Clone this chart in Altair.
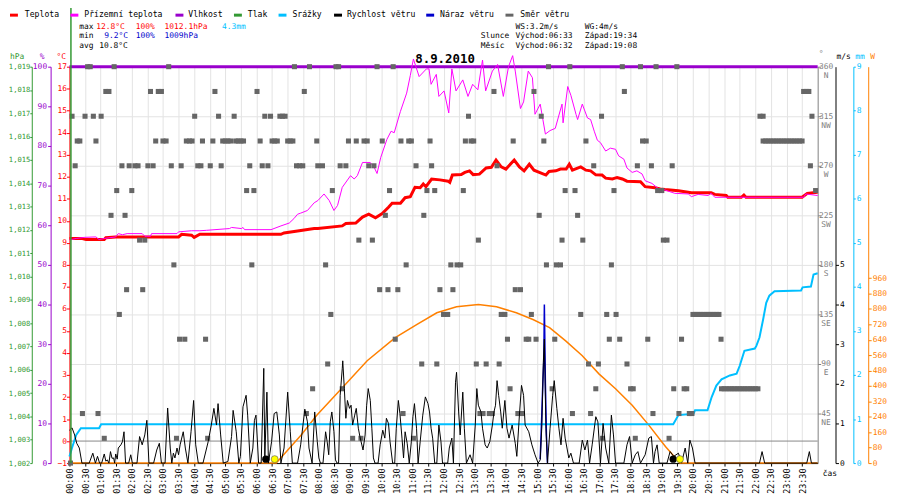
import altair as alt
import pandas as pd

FONT = "DejaVu Sans Mono"
FS = 8
W, H = 755, 400
X0, Y0 = 70, 65

C_TEMP = "#ff0000"
C_FEEL = "#ff00ff"
C_HUM = "#9900cc"
C_PRES = "#339933"
C_RAIN = "#00bfff"
C_WIND = "#000000"
C_GUST = "#0000cc"
C_DIR = "#666666"
C_SUN = "#ff8000"

# ---- data (time in minutes since midnight, value) ----
temp = [(0, 9.2), (25, 9.2), (32, 9.15), (67, 9.15), (70, 9.23), (89, 9.27), (210, 9.27), (216, 9.39),
        (235, 9.35), (240, 9.25), (251, 9.39), (407, 9.39), (413, 9.45), (439, 9.54), (471, 9.65),
        (478, 9.65), (525, 9.77), (532, 9.88), (551, 9.9), (564, 10.17), (576, 10.3), (589, 10.14),
        (602, 10.33), (614, 10.62), (621, 10.8), (637, 10.8), (646, 11.05), (656, 11.1), (665, 11.52),
        (675, 11.5), (681, 11.67), (686, 11.55), (697, 11.9), (713, 11.86), (729, 11.8), (732, 11.75),
        (737, 12.08), (754, 12.1), (761, 12.2), (770, 12.27), (777, 12.1), (789, 12.12), (802, 12.4),
        (812, 12.43), (821, 12.76), (831, 12.45), (840, 12.35), (856, 12.76), (866, 12.45), (875, 12.27),
        (885, 12.57), (894, 12.3), (917, 12.08), (923, 12.24), (936, 12.27), (945, 12.35), (956, 12.35),
        (962, 12.57), (968, 12.3), (984, 12.45), (994, 12.3), (1003, 12.27), (1013, 12.09), (1025, 12.08),
        (1032, 11.94), (1045, 11.9), (1054, 11.97), (1064, 11.9), (1073, 11.8), (1099, 11.78), (1108, 11.55),
        (1127, 11.5), (1137, 11.45), (1146, 11.42), (1172, 11.37), (1197, 11.28), (1235, 11.28), (1242, 11.2),
        (1264, 11.15), (1267, 11.07), (1293, 11.07), (1298, 11.17), (1302, 11.07), (1410, 11.07), (1420, 11.25),
        (1440, 11.3)]

feels = [(0, 9.13), (13, 9.2), (29, 9.25), (51, 9.27), (57, 9.15), (67, 9.2), (89, 9.27), (94, 9.42),
         (102, 9.37), (111, 9.42), (140, 9.42), (145, 9.3), (156, 9.3), (158, 9.42), (207, 9.42), (210, 9.5),
         (235, 9.55), (251, 9.55), (264, 9.57), (308, 9.65), (312, 9.7), (331, 9.65), (334, 9.7), (337, 9.6),
         (388, 9.6), (407, 9.77), (423, 9.9), (432, 10.1), (439, 10.3), (445, 10.35), (458, 10.47), (471, 10.82),
         (478, 10.92), (490, 11.22), (500, 10.92), (509, 10.47), (516, 10.7), (525, 11.52), (541, 12.05),
         (548, 11.9), (554, 12.05), (564, 12.65), (579, 12.65), (586, 12.45), (592, 12.15), (599, 12.87),
         (611, 13.7), (619, 14.07), (625, 14.0), (637, 14.97), (649, 15.8), (656, 16.6), (662, 17.35),
         (673, 16.55), (687, 16.9), (692, 16.9), (696, 16.2), (706, 16.65), (711, 15.65), (721, 15.9),
         (730, 14.9), (736, 16.9), (744, 15.9), (757, 16.4), (767, 15.65), (776, 16.2), (786, 15.95),
         (795, 17.3), (801, 15.9), (814, 16.8), (824, 17.1), (835, 15.65), (845, 17.0), (853, 17.5),
         (858, 16.8), (868, 15.1), (874, 15.4), (883, 16.8), (891, 16.5), (896, 14.84), (906, 15.3),
         (916, 13.94), (925, 14.1), (935, 14.2), (948, 15.3), (950, 14.45), (959, 16.1), (965, 15.7),
         (975, 14.83), (978, 14.6), (987, 15.3), (997, 14.67), (1003, 14.6), (1010, 14.07), (1016, 13.66),
         (1022, 13.55), (1032, 13.17), (1041, 13.3), (1051, 13.25), (1057, 12.95), (1067, 12.8), (1073, 12.4),
         (1083, 12.2), (1092, 12.27), (1102, 12.13), (1108, 11.82), (1121, 11.7), (1134, 11.45), (1146, 11.4),
         (1165, 11.25), (1191, 11.22), (1197, 11.1), (1210, 11.2), (1229, 11.15), (1235, 11.25), (1242, 11.07),
         (1413, 11.07), (1417, 11.22), (1440, 11.15)]

humidity = [(0, 100), (1440, 100)]
pressure = [(0, 1012.1), (0, 1009.0)]

wind = [(0, 0.83), (5, 0.89), (10, 0.71), (14, 0.5), (19, 0.38), (24, 0), (38, 0), (45, 0.25), (50, 0),
        (54, 0.17), (58, 0), (62, 0), (67, 0.23), (70, 0.05), (73, 0.08), (76, 0), (79, 0.29), (82, 0.12),
        (85, 0.13), (87, 0), (89, 0.23), (92, 0.1), (94, 0.38), (99, 0.46), (102, 0.54), (105, 0.79), (108, 0),
        (114, 0), (118, 0.21), (121, 0), (130, 0), (135, 0.67), (140, 0.46), (145, 0.71), (149, 1.08), (153, 0),
        (162, 0), (168, 0.33), (173, 0.5), (177, 0), (184, 0), (189, 1.39), (194, 0.38), (197, 0), (200, 0.25),
        (203, 0.13), (207, 0.38), (210, 0.21), (213, 0.46), (219, 0.79), (223, 0.38), (228, 0), (234, 0.79),
        (239, 1.58), (243, 0.46), (248, 0), (257, 0), (267, 0.54), (273, 0.96), (278, 1.38), (283, 0.96),
        (286, 1.5), (291, 0.71), (296, 0), (305, 0.04), (312, 0.67), (315, 1.33), (321, 0.79), (326, 0),
        (329, 0.17), (334, 1.42), (340, 1.71), (343, 1.21), (348, 0), (353, 0.38), (356, 1.08), (359, 1.21),
        (364, 0), (369, 0), (374, 2.39), (376, 0.13), (380, 1.79), (383, 0), (389, 0.54), (394, 1.25),
        (399, 1.29), (404, 0.71), (407, 0), (413, 0.38), (420, 1.79), (425, 0.79), (429, 0), (439, 0),
        (445, 0.46), (453, 1.36), (458, 1.04), (461, 0.38), (467, 0), (472, 1.29), (477, 0.54), (480, 0.13),
        (483, 0), (488, 0), (493, 0.79), (496, 0.54), (499, 0.21), (502, 1.04), (505, 1.29), (509, 0.79),
        (512, 0.08), (515, 0), (518, 0), (521, 1.71), (525, 2.38), (526, 2.58), (529, 1.88), (532, 1.13),
        (535, 1.58), (539, 1.38), (542, 1.46), (545, 0.96), (549, 1.21), (552, 1.38), (556, 0.88), (559, 0.67),
        (565, 0.33), (569, 0.71), (572, 1.46), (575, 1.88), (579, 1.58), (582, 0.88), (585, 0.13), (588, 0),
        (594, 0), (598, 0.46), (603, 0.83), (607, 0.63), (610, 1.13), (614, 1.0), (617, 0.54), (622, 0),
        (626, 0), (629, 0.88), (633, 1.58), (636, 1.25), (640, 0.63), (643, 0.13), (646, 0.79), (650, 0.5),
        (654, 0), (658, 0.54), (661, 1.17), (664, 1.5), (668, 0.88), (671, 0), (675, 0.54), (680, 1.21),
        (685, 1.67), (690, 1.5), (693, 1.29), (696, 0.88), (699, 0.63), (703, 0), (707, 0), (711, 0.96),
        (715, 0.54), (718, 0), (728, 0), (731, 0.38), (736, 0.63), (739, 0), (743, 2.04), (745, 2.29),
        (749, 1.29), (752, 0.71), (757, 1.79), (760, 0.88), (764, 0), (771, 0.21), (776, 0), (781, 0.96),
        (784, 1.88), (787, 1.46), (792, 1.29), (795, 0.88), (800, 0.46), (804, 0.38), (809, 0.54), (814, 0.96),
        (817, 1.29), (820, 1.46), (823, 2.08), (826, 1.71), (830, 1.29), (833, 0.88), (838, 1.58), (842, 0.88),
        (846, 0.63), (852, 0.96), (858, 0.5), (861, 0.17), (866, 1.21), (870, 1.96), (874, 1.71), (877, 0.96),
        (884, 0.79), (890, 0.46), (896, 0.21), (902, 0), (906, 0.08), (909, 0.88), (912, 2.54), (914, 3.13),
        (917, 0.88), (920, 0), (925, 0.88), (930, 1.71), (933, 2.08), (938, 1.38), (942, 0.88), (946, 0.46),
        (950, 1.13), (954, 0.63), (961, 0.13), (965, 0.25), (970, 0), (981, 0), (987, 0.58), (992, 0.33),
        (997, 0.58), (1001, 0), (1006, 0.46), (1013, 1.17), (1017, 1.04), (1022, 0), (1027, 1.0), (1032, 0.38),
        (1038, 0), (1043, 1.21), (1047, 0.71), (1051, 0), (1067, 0), (1073, 0.46), (1078, 0.67), (1083, 0),
        (1089, 0.21), (1094, 0.29), (1099, 0), (1108, 0.21), (1115, 0.63), (1120, 0.67), (1124, 0),
        (1127, 0.29), (1131, 0.46), (1135, 0), (1150, 0), (1156, 0.29), (1163, 0.17), (1172, 0.25), (1178, 0),
        (1185, 0.38), (1190, 0), (1194, 0.58), (1199, 0.38), (1204, 0), (1328, 0), (1333, 0.29), (1338, 0),
        (1419, 0), (1424, 0.29), (1428, 0), (1440, 0)]

gust = [(906, 0.1), (909, 1.2), (911, 2.0), (913, 2.6), (914, 4.0), (916, 2.0), (918, 0.7), (920, 0)]

rain = [(0, 0.15), (5, 0.35), (13, 0.64), (22, 0.79), (57, 0.79), (61, 0.88), (1162, 0.88), (1172, 1.09),
        (1201, 1.12), (1204, 1.2), (1228, 1.2), (1236, 1.5), (1245, 1.76), (1255, 1.9), (1271, 1.99),
        (1284, 2.03), (1290, 2.21), (1299, 2.55), (1319, 2.6), (1322, 2.66), (1328, 2.85), (1335, 3.26),
        (1341, 3.64), (1347, 3.8), (1357, 3.9), (1408, 3.92), (1411, 3.99), (1427, 4.01), (1432, 4.28),
        (1440, 4.31)]

solar = [(0, 0), (398, 0), (446, 146), (476, 248), (526, 394), (573, 531), (627, 651), (669, 720),
         (707, 780), (745, 811), (787, 823), (822, 811), (860, 780), (892, 745), (924, 703), (955, 634),
         (987, 557), (1019, 463), (1051, 386), (1083, 300), (1115, 197), (1147, 86), (1175, 0), (1440, 0)]

# wind direction readings: direction -> list of minutes
wind_dir = {
    360: [35, 40, 86, 191, 433, 462, 513, 518, 592, 623, 922, 963, 1064, 1099, 1129, 1169],
    337.5: [70, 76, 156, 171, 177, 280, 361, 452, 817, 894, 1068, 1413, 1418, 1423],
    315: [5, 30, 46, 61, 241, 287, 317, 376, 387, 405, 410, 415, 768, 908, 1024, 1329, 1335, 1429],
    292.5: [15, 20, 51, 166, 180, 186, 225, 231, 236, 256, 276, 295, 300, 305, 310, 320, 325, 330, 335,
            367, 390, 395, 400, 420, 425, 430, 476, 537, 552, 567, 573, 602, 638, 653, 658, 694, 762, 773,
            778, 854, 913, 994, 1103, 1110, 1335, 1340, 1345, 1350, 1355, 1360, 1365, 1370, 1375, 1380,
            1385, 1390, 1395, 1400, 1405, 1410],
    270: [11, 101, 115, 126, 132, 151, 161, 196, 215, 247, 253, 271, 292, 347, 371, 382, 437, 443, 449,
          478, 487, 521, 532, 576, 586, 667, 697, 823, 1009, 1093, 1120, 1160, 1426],
    247.5: [91, 120, 341, 355, 506, 616, 688, 703, 758, 954, 973, 1048, 1132, 1140, 1436],
    225: [80, 107, 608, 682, 904, 978],
    202.5: [135, 145, 557, 583, 787, 948, 988, 1143, 1150],
    180: [201, 351, 493, 648, 734, 746, 753, 918, 937, 945, 1043],
    157.5: [110, 141, 597, 613, 632, 713, 738, 858, 868],
    135: [96, 503, 720, 728, 831, 838, 889, 984, 1034, 1052, 1200, 1205, 1210, 1215, 1220, 1225, 1230,
          1235, 1240, 1245, 1250],
    112.5: [212, 222, 262, 627, 843, 879, 884, 898, 934, 1039, 1059, 1113, 1178, 1254],
    90: [497, 678, 707, 783, 802, 827, 999, 1018, 1073],
    67.5: [468, 525, 848, 929, 1013, 1080, 1085, 1163, 1183, 1188, 1255, 1260, 1265, 1270, 1275, 1280,
           1285, 1290, 1295, 1300, 1305, 1310, 1315, 1320, 1325],
    45: [25, 55, 456, 642, 790, 796, 808, 814, 863, 871, 968, 1003, 1123, 1173, 1193, 1198],
    22.5: [67, 206, 266, 545, 561, 662, 1026, 1089, 1154],
    0: [2],
}

moon_marks = [378, 1162]
sun_marks = [395, 1175]

legend_names = ["Teplota", "Přízemní teplota", "Vlhkost", "Tlak", "Srážky", "Rychlost větru",
                "Náraz větru", "Směr větru"]
legend_colors = [C_TEMP, C_FEEL, C_HUM, C_PRES, C_RAIN, C_WIND, C_GUST, C_DIR]


def df(pairs):
    return pd.DataFrame(pairs, columns=["t", "v"])


dir_df = pd.DataFrame([(t, d) for d, ts in wind_dir.items() for t in ts], columns=["t", "v"])

# ---- scales / axes ----
xscale = alt.Scale(domain=[0, 1440], nice=False, zero=False)
xaxis = alt.Axis(values=list(range(0, 1440, 30)),
                 labelExpr="(datum.value < 600 ? '0' : '') + floor(datum.value / 60) + ':' + (datum.value % 60 == 0 ? '00' : '30')",
                 labelAngle=270, labelAlign="right", labelBaseline="middle", labelFont=FONT, labelFontSize=8.5,
                 labelColor="black", tickColor="black", tickSize=3, labelPadding=2, domainColor="black",
                 grid=True, gridColor="#e3e3e3", title=None, labelFlush=False, labelOverlap=False)


def X():
    return alt.X("t:Q", scale=xscale, axis=xaxis)


def yaxis(orient, offset, values, color, **kw):
    base = dict(orient=orient, offset=offset, values=values, title=None, grid=False, domainColor=color,
                tickColor=color, labelColor=color, labelFont=FONT, labelFontSize=FS, tickSize=3,
                labelPadding=1, labelOverlap=False, labelFlush=False)
    base.update(kw)
    return alt.Axis(**base)


def Y(domain, axis=None):
    return alt.Y("v:Q", scale=alt.Scale(domain=domain, nice=False, zero=False), axis=axis)


T_DOM = [-1, 17]

pres_layer = alt.Chart(df(pressure)).mark_point(opacity=0).encode(
    x=X(), y=Y([1002, 1019], yaxis("left", 38, list(range(1002, 1020)), C_PRES, labelFontSize=7.2,
                                    tickSize=2, labelPadding=0)))

zero_layer = alt.Chart(df([(0, 0)])).mark_rule(color="#888888", strokeWidth=1).encode(y=Y(T_DOM))

solar_layer = alt.Chart(df(solar)).mark_line(color=C_SUN, strokeWidth=1.5).encode(
    x=X(), y=Y([0, 2057], yaxis("right", 51, list(range(0, 961, 80)), C_SUN)))

rain_layer = alt.Chart(df(rain)).mark_line(color=C_RAIN, strokeWidth=2).encode(
    x=X(), y=Y([0, 9], yaxis("right", 36, list(range(0, 10)), C_RAIN, tickSize=2)))

hum_layer = alt.Chart(df(humidity)).mark_line(color=C_HUM, strokeWidth=3).encode(
    x=X(), y=Y([0, 100], yaxis("left", 19, list(range(0, 101, 10)), C_HUM)))

temp_layer = alt.Chart(df(temp)).mark_line(color=C_TEMP, strokeWidth=3).encode(
    x=X(), y=Y(T_DOM, yaxis("left", 0, list(range(-1, 18)), C_TEMP, labelPadding=0)))

feel_layer = alt.Chart(df(feels)).mark_line(color=C_FEEL, strokeWidth=1).encode(x=X(), y=Y(T_DOM))

dir_expr = ("datum.value == 360 ? ['360','N'] : datum.value == 315 ? ['315','NW'] : "
            "datum.value == 270 ? ['270','W'] : datum.value == 225 ? ['225','SW'] : "
            "datum.value == 180 ? ['180','S'] : datum.value == 135 ? ['135','SE'] : "
            "datum.value == 90 ? ['90','E'] : datum.value == 45 ? ['45','NE'] : datum.label")
dir_layer = alt.Chart(dir_df).mark_square(size=26, color=C_DIR, opacity=1).encode(
    x=X(), y=Y([0, 360], yaxis("right", 0, [45, 90, 135, 180, 225, 270, 315, 360], "#808080",
                                grid=True, gridColor="#e3e3e3", labelAlign="center", labelPadding=5,
                                labelBaseline="top", labelOffset=-4, labelLineHeight=9, labelExpr=dir_expr)))

gust_layer = alt.Chart(df(gust)).mark_line(color=C_GUST, strokeWidth=1.5).encode(x=X(), y=Y([0, 10]))

wind_layer = alt.Chart(df(wind)).mark_line(color=C_WIND, strokeWidth=1).encode(
    x=X(), y=Y([0, 10], yaxis("right", 18, [0, 1, 2, 3, 4, 5], C_WIND)))

moon_layer = alt.Chart(pd.DataFrame({"t": moon_marks})).mark_circle(size=55, color="black", opacity=1).encode(
    x=X(), y=alt.value(396))
sun_layer = alt.Chart(pd.DataFrame({"t": sun_marks})).mark_point(
    size=50, filled=True, fill="#ffff00", stroke="#555555", strokeWidth=0.6, opacity=1).encode(
    x=X(), y=alt.value(396))

green_rule = alt.Chart(alt.Data(values=[{}])).mark_rule(color=C_PRES, strokeWidth=1.5).encode(
    x=alt.value(1.5), y=alt.value(-Y0), y2=alt.value(H))


def txt(s, px, py, color="black", size=FS, weight="normal", align="left"):
    return alt.Chart(alt.Data(values=[{}])).mark_text(
        text=s, font=FONT, fontSize=size, fontWeight=weight, color=color, align=align,
        baseline="middle").encode(x=alt.value(px - X0), y=alt.value(py - Y0))


def key(px1, px2, py, color):
    return alt.Chart(alt.Data(values=[{}])).mark_rule(color=color, strokeWidth=3).encode(
        x=alt.value(px1 - X0), x2=alt.value(px2 - X0), y=alt.value(py - Y0))


# legend row (symbol start, symbol end, label start)
legend_pos = [(10, 18, 25), (71, 79, 85), (177, 185, 190), (236, 244, 250), (281, 289, 295),
              (337, 345, 350), (430, 438, 444), (510, 518, 525)]
LEG_Y = 13
legend_layers = []
for name, col, (a, b, c) in zip(legend_names, legend_colors, legend_pos):
    legend_layers.append(key(a, b, LEG_Y, col))
    legend_layers.append(txt(name, c, LEG_Y, "black", size=8.2))

texts = [
    txt("max", 80, 25), txt("12.8°C", 97, 25, C_TEMP), txt("100%", 137, 25, C_TEMP),
    txt("1012.1hPa", 166, 25, C_TEMP), txt("4.3mm", 224, 25, C_RAIN),
    txt("min", 80, 34.5), txt("9.2°C", 105, 34.5, C_GUST), txt("100%", 137, 34.5, C_GUST),
    txt("1009hPa", 166, 34.5, C_GUST),
    txt("avg", 80, 44), txt("10.8°C", 100, 44),
    txt("WS:3.2m/s", 520, 25), txt("WG:4m/s", 590, 25),
    txt("Slunce", 485, 34.5), txt("Východ:06:33", 520, 34.5), txt("Západ:19:34", 590, 34.5),
    txt("Měsíc", 485, 44), txt("Východ:06:32", 520, 44), txt("Západ:19:08", 590, 44),
    txt("hPa", 10, 55, C_PRES), txt("%", 40, 55, C_HUM), txt("°C", 57, 55, C_TEMP),
    txt("°", 826, 52, "#808080"), txt("m/s", 844, 55, C_WIND), txt("mm", 863, 55, C_RAIN),
    txt("W", 878, 55, C_SUN),
    txt("čas", 830, 476),
    txt("8.9.2010", 449, 57, "black", size=12.5, weight="bold", align="center"),
]

chart = alt.layer(
    pres_layer, zero_layer, solar_layer, rain_layer, hum_layer, temp_layer, feel_layer,
    dir_layer, gust_layer, wind_layer, moon_layer, sun_layer, green_rule, *legend_layers, *texts
).resolve_scale(y="independent").properties(
    width=W, height=H,
    padding={"left": X0 - 8, "top": Y0 - 8, "right": 75, "bottom": 32},
    autosize=alt.AutoSizeParams(type="none"),
    background="white",
).configure_view(strokeWidth=0)

chart.save("out.html", embed_options={"renderer": "svg", "actions": False})
